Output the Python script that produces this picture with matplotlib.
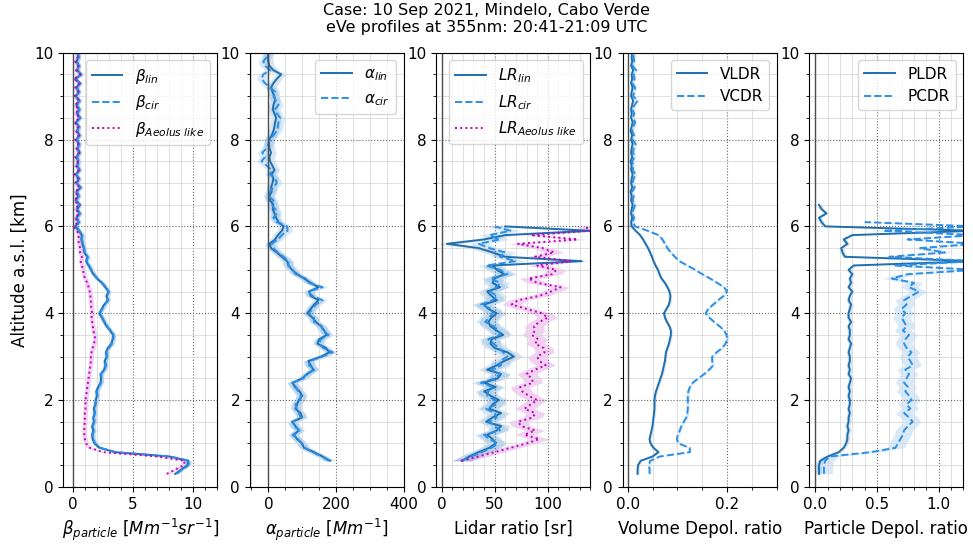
# eVe lidar profiles, Mindelo 10 Sep 2021
import numpy as np
import matplotlib.pyplot as plt
from matplotlib.ticker import MultipleLocator

# altitude grid [km], 100 m steps from 0.3 km
alt = np.round(np.arange(0.3, 10.01, 0.1), 1)

# backscatter [Mm-1 sr-1], 0.3 - 10 km
beta_lin = [8.5, 9.0, 9.5, 9.6, 8.0, 3.5, 2.2,
            1.8, 1.65, 1.6, 1.7, 1.6, 1.75, 1.7, 1.8, 1.75, 1.85,
            1.9, 2.0, 1.95, 2.1, 2.3, 2.35, 2.3, 2.6, 2.7, 2.65,
            2.8, 2.75, 2.9, 3.2, 3.3, 3.35, 3.1, 2.8, 2.6, 2.4,
            2.2, 2.4, 2.6, 2.9, 2.8, 2.95, 2.7, 2.4, 2.0, 1.7,
            1.5, 1.3, 1.1, 1.2, 0.95, 0.9, 0.8, 0.7, 0.75, 0.5,
            0.2, 0.5, 0.3, 0.55, 0.35, 0.6, 0.25, 0.45, 0.3, 0.65,
            0.3, 0.5, 0.25, 0.55, 0.35, 0.45, 0.3, 0.55, 0.4, 0.5,
            0.3, 0.55, 0.35, 0.5, 0.25, 0.6, 0.35, 0.5, 0.3, 0.55,
            0.25, 0.5, 0.3, 0.6, 0.2, 0.7, 0.35, 0.5, 0.3, 0.45,
            0.4]
beta_cir = [8.6, 9.1, 9.6, 9.7, 8.1, 3.6, 2.3,
            1.85, 1.7, 1.65, 1.75, 1.65, 1.8, 1.75, 1.85, 1.8, 1.9,
            1.95, 2.05, 2.0, 2.15, 2.35, 2.4, 2.35, 2.65, 2.75, 2.7,
            2.85, 2.8, 3.0, 3.25, 3.35, 3.4, 3.15, 2.85, 2.65, 2.45,
            2.25, 2.45, 2.65, 2.95, 2.85, 3.0, 2.75, 2.45, 2.05, 1.75,
            1.55, 1.35, 1.15, 1.25, 1.0, 0.95, 0.85, 0.75, 0.8, 0.55,
            0.3, 0.45, 0.35, 0.6, 0.3, 0.5, 0.3, 0.5, 0.35, 0.6,
            0.35, 0.45, 0.3, 0.5, 0.4, 0.5, 0.35, 0.5, 0.35, 0.55,
            0.35, 0.5, 0.4, 0.45, 0.3, 0.55, 0.4, 0.55, 0.35, 0.5,
            0.3, 0.45, 0.35, 0.55, 0.25, 0.65, 0.4, 0.45, 0.35, 0.5,
            0.45]
beta_aeo = [7.8, 8.5, 9.2, 9.3, 7.0, 2.5, 1.4,
            1.1, 1.0, 0.95, 0.95, 0.95, 1.0, 1.0, 1.0, 1.05, 1.05,
            1.05, 1.1, 1.15, 1.2, 1.25, 1.3, 1.35, 1.4, 1.45, 1.5,
            1.5, 1.55, 1.65, 1.75, 1.85, 1.8, 1.7, 1.65, 1.6, 1.55,
            1.6, 1.55, 1.5, 1.5, 1.45, 1.4, 1.3, 1.2, 1.0, 0.9,
            0.85, 0.75, 0.65, 0.75, 0.6, 0.6, 0.5, 0.45, 0.5, 0.35,
            0.1, 0.4, 0.2, 0.5, 0.25, 0.45, 0.15, 0.4, 0.2, 0.55,
            0.2, 0.45, 0.15, 0.5, 0.25, 0.4, 0.2, 0.5, 0.3, 0.45,
            0.2, 0.5, 0.25, 0.45, 0.15, 0.55, 0.25, 0.45, 0.2, 0.5,
            0.15, 0.45, 0.2, 0.55, 0.1, 0.6, 0.25, 0.45, 0.2, 0.4,
            0.3]

# extinction [Mm-1], 0.6 - 10 km
alpha_lin = [182, 160, 135, 105,
             100, 85, 75, 90, 80, 70, 100, 95, 80, 85,
             90, 100, 92, 78, 72, 100, 115, 133, 125, 118,
             155, 180, 170, 145, 150, 172, 165, 155, 140, 130,
             115, 125, 135, 148, 125, 120, 148, 125, 105, 85,
             70, 60, 55, 40, 25, 8, 3, 20, 28, 40,
             45, 30, 23, 18, 13, 15, 5, 3, 10, 8,
             12, 15, 10, 18, 12, 5, 3, 8, 3, 2,
             3, 10, 15, 18, 20, 23, 18, 13, 15, 20,
             18, 12, 8, 15, 25, 38, 15, 3, 0, -2,
             0]
alpha_cir = [178, 158, 130, 108,
             98, 88, 72, 92, 75, 74, 96, 90, 84, 80,
             94, 96, 88, 82, 70, 104, 112, 138, 120, 122,
             160, 190, 162, 150, 155, 178, 160, 158, 135, 135,
             120, 130, 140, 160, 130, 118, 160, 120, 110, 80,
             72, 58, 60, 45, 28, 15, 10, 28, 40, 57,
             55, 25, 15, 25, 20, 10, 15, 0, 5, 15,
             25, 20, 5, 10, -5, -20, -10, -18, -5, 0,
             5, 15, 25, 28, 30, 35, 25, 20, 30, 22,
             15, 20, 5, -10, -20, -15, 5, -10, -15, -5,
             0]

# lidar ratio [sr], 0.6 - 6 km
lr_lin = [19, 26, 35, 45,
          51, 48, 43, 52, 56, 42, 48, 56, 45, 48,
          54, 46, 40, 51, 40, 53, 56, 43, 52, 59,
          68, 62, 50, 46, 47, 58, 52, 46, 44, 47,
          52, 44, 40, 52, 47, 43, 55, 48, 50, 59,
          52, 48, 132, 60, 48, 35, 5, 40, 60, 140,
          60]
lr_cir = [19, 28, 38, 47,
          53, 45, 40, 55, 50, 45, 52, 50, 42, 52,
          50, 43, 44, 48, 37, 50, 55, 47, 56, 55,
          62, 58, 54, 49, 44, 55, 54, 49, 41, 45,
          48, 47, 37, 48, 52, 46, 52, 55, 46, 62,
          55, 42, 70, 55, 60, 45, 35, 55, 45, 65,
          50]
lr_aeo = [19, 35, 50, 65,
          80, 92, 78, 88, 75, 72, 86, 88, 78, 84,
          90, 82, 76, 74, 86, 85, 80, 88, 98, 92,
          90, 97, 96, 88, 91, 85, 88, 87, 92, 100,
          94, 80, 66, 72, 92, 103, 112, 90, 82, 104,
          108, 90, 122, 88, 106, 95, 72, 128, 84, 140,
          135]

# volume depolarization ratio, 0.3 - 10 km
vldr = [0.020, 0.020, 0.021, 0.026, 0.050, 0.062, 0.052,
        0.046, 0.044, 0.046, 0.048, 0.050, 0.051, 0.052, 0.053, 0.054, 0.054,
        0.054, 0.055, 0.057, 0.060, 0.063, 0.066, 0.069, 0.071, 0.073, 0.075,
        0.076, 0.077, 0.080, 0.083, 0.085, 0.087, 0.087, 0.084, 0.079, 0.075,
        0.073, 0.078, 0.083, 0.085, 0.086, 0.084, 0.080, 0.075, 0.068, 0.064,
        0.061, 0.056, 0.052, 0.049, 0.045, 0.041, 0.036, 0.031, 0.025, 0.016,
        0.008, 0.007, 0.009, 0.007, 0.008, 0.010, 0.007, 0.008, 0.006, 0.009,
        0.007, 0.008, 0.010, 0.007, 0.008, 0.006, 0.009, 0.007, 0.008, 0.010,
        0.007, 0.009, 0.006, 0.008, 0.010, 0.007, 0.008, 0.007, 0.009, 0.011,
        0.007, 0.008, 0.010, 0.007, 0.009, 0.008, 0.011, 0.007, 0.009, 0.008,
        0.009]
vcdr = [0.044, 0.044, 0.043, 0.045, 0.065, 0.125, 0.125,
        0.102, 0.099, 0.101, 0.105, 0.108, 0.113, 0.118, 0.120, 0.121, 0.121,
        0.121, 0.121, 0.122, 0.125, 0.131, 0.142, 0.154, 0.164, 0.172, 0.170,
        0.170, 0.179, 0.190, 0.197, 0.200, 0.199, 0.194, 0.185, 0.174, 0.164,
        0.157, 0.162, 0.172, 0.182, 0.193, 0.200, 0.194, 0.180, 0.166, 0.150,
        0.136, 0.120, 0.104, 0.095, 0.087, 0.080, 0.075, 0.070, 0.062, 0.040,
        0.015, 0.010, 0.013, 0.009, 0.012, 0.015, 0.010, 0.012, 0.009, 0.014,
        0.010, 0.012, 0.016, 0.010, 0.012, 0.009, 0.014, 0.011, 0.012, 0.016,
        0.010, 0.013, 0.009, 0.012, 0.015, 0.011, 0.013, 0.010, 0.014, 0.020,
        0.011, 0.013, 0.015, 0.010, 0.014, 0.012, 0.017, 0.010, 0.013, 0.012,
        0.012]

# particle depolarization ratio
pldr = [0.03, 0.03, 0.03, 0.04, 0.10, 0.19, 0.23,
        0.25, 0.26, 0.26, 0.27, 0.26, 0.27, 0.27, 0.28, 0.27, 0.28,
        0.28, 0.27, 0.28, 0.27, 0.28, 0.29, 0.27, 0.28, 0.27, 0.28,
        0.28, 0.27, 0.28, 0.29, 0.27, 0.28, 0.28, 0.27, 0.29, 0.27,
        0.27, 0.28, 0.29, 0.27, 0.28, 0.30, 0.27, 0.29, 0.28, 0.30,
        0.27, 0.31, 1.3, 0.24, 0.22, 0.21, 0.26, 0.23, 0.30, 1.3,
        0.08, 0.05, 0.03, 0.09, 0.05, 0.03]
pcdr = [0.07, 0.07, 0.07, 0.08, 0.12, 0.45, 0.65,
        0.67, 0.69, 0.71, 0.72, 0.75, 0.79, 0.76, 0.72, 0.77, 0.74,
        0.78, 0.76, 0.73, 0.75, 0.72, 0.74, 0.76, 0.73, 0.79, 0.77,
        0.75, 0.78, 0.74, 0.72, 0.73, 0.76, 0.71, 0.74, 0.72, 0.70,
        0.73, 0.70, 0.74, 0.72, 0.78, 0.84, 0.76, 0.80, 0.62, 0.75,
        1.3, 0.65, 1.3, 0.60, 1.05, 0.85, 1.3, 0.75, 1.3, 0.55,
        1.3, 0.4]

# uncertainties (absolute)
err_beta = 0.2
err_alpha = 15
err_lr = 9
err_vdr = 0.003
err_pldr = 0.02
err_pcdr = 0.07

c_lin = '#1f6fae'
c_cir = '#2b8fe8'
c_aeo = '#bf00bf'


def prof(vals, start):
    # altitudes for a profile beginning at 'start' km
    i0 = int(round((start - 0.3) / 0.1))
    return alt[i0:i0 + len(vals)]


def draw(ax, vals, start, err, color, ls, label):
    v = np.array(vals, dtype=float)
    z = prof(vals, start)
    ax.fill_betweenx(z, v - err, v + err, color=color, alpha=0.18, lw=0)
    ax.plot(v, z, color=color, ls=ls, lw=1.4, label=label)


fig, axs = plt.subplots(1, 5, figsize=(9.73, 5.44), dpi=100)
plt.subplots_adjust(left=0.065, right=0.99, top=0.903, bottom=0.105, wspace=0.21)

# backscatter
draw(axs[0], beta_lin, 0.3, err_beta, c_lin, '-', r'$\beta_{lin}$')
draw(axs[0], beta_cir, 0.3, err_beta, c_cir, '--', r'$\beta_{cir}$')
draw(axs[0], beta_aeo, 0.3, err_beta, c_aeo, ':', r'$\beta_{Aeolus\ like}$')
axs[0].set_xlim(-0.8, 12)
axs[0].xaxis.set_major_locator(MultipleLocator(5))
axs[0].xaxis.set_minor_locator(MultipleLocator(1))
axs[0].set_xlabel(r'$\beta_{particle}\ [Mm^{-1}sr^{-1}]$', fontsize=12, labelpad=4)
axs[0].set_ylabel('Altitude a.s.l. [km]', fontsize=12)

# extinction
draw(axs[1], alpha_lin, 0.6, err_alpha, c_lin, '-', r'$\alpha_{lin}$')
draw(axs[1], alpha_cir, 0.6, err_alpha, c_cir, '--', r'$\alpha_{cir}$')
axs[1].set_xlim(-55, 400)
axs[1].xaxis.set_major_locator(MultipleLocator(200))
axs[1].xaxis.set_minor_locator(MultipleLocator(50))
axs[1].set_xlabel(r'$\alpha_{particle}\ [Mm^{-1}]$', fontsize=12, labelpad=4)

# lidar ratio
draw(axs[2], lr_lin, 0.6, err_lr, c_lin, '-', r'$LR_{lin}$')
draw(axs[2], lr_cir, 0.6, err_lr, c_cir, '--', r'$LR_{cir}$')
draw(axs[2], lr_aeo, 0.6, err_lr, c_aeo, ':', r'$LR_{Aeolus\ like}$')
axs[2].set_xlim(-5, 140)
axs[2].xaxis.set_major_locator(MultipleLocator(50))
axs[2].xaxis.set_minor_locator(MultipleLocator(10))
axs[2].set_xlabel('Lidar ratio [sr]', fontsize=12, labelpad=6)

# volume depol
draw(axs[3], vldr, 0.3, err_vdr, c_lin, '-', 'VLDR')
draw(axs[3], vcdr, 0.3, err_vdr, c_cir, '--', 'VCDR')
axs[3].set_xlim(-0.01, 0.3)
axs[3].xaxis.set_major_locator(MultipleLocator(0.2))
axs[3].xaxis.set_minor_locator(MultipleLocator(0.05))
axs[3].set_xlabel('Volume Depol. ratio', fontsize=12, labelpad=6)

# particle depol
draw(axs[4], pldr, 0.3, err_pldr, c_lin, '-', 'PLDR')
draw(axs[4], pcdr, 0.3, err_pcdr, c_cir, '--', 'PCDR')
axs[4].set_xlim(-0.05, 1.2)
axs[4].xaxis.set_major_locator(MultipleLocator(0.5))
axs[4].xaxis.set_minor_locator(MultipleLocator(0.1))
axs[4].set_xlabel('Particle Depol. ratio', fontsize=12, labelpad=6)

for ax in axs:
    ax.set_ylim(0, 10)
    ax.yaxis.set_major_locator(MultipleLocator(2))
    ax.yaxis.set_minor_locator(MultipleLocator(0.5))
    ax.axvline(0, color='0.3', lw=1)
    ax.grid(which='major', ls=':', color='0.4', lw=0.8)
    ax.grid(which='minor', ls='-', color='0.85', lw=0.6)
    ax.tick_params(labelsize=11)
    ax.legend(loc='upper right', fontsize=11)

fig.suptitle('Case: 10 Sep 2021, Mindelo, Cabo Verde\neVe profiles at 355nm: 20:41-21:09 UTC',
             fontsize=11.5, y=0.995)
plt.savefig('out.png', dpi=100)
